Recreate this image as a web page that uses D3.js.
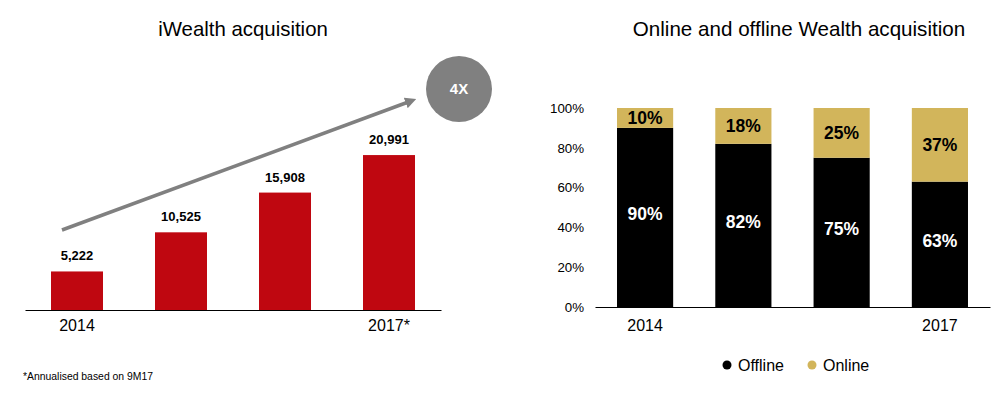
<!DOCTYPE html>
<html><head><meta charset="utf-8">
<script src="https://cdn.jsdelivr.net/npm/d3@7"></script>
<style>body{margin:0;background:#fff}svg{display:block;font-family:"Liberation Sans",Arial,sans-serif}</style>
</head><body>
<script>
// Left chart data
const years = ["2014", "2015", "2016", "2017*"];
const yearLabels = ["2014", "", "", "2017*"];
const acquisitions = [5222, 10525, 15908, 20991];
// Right chart data
const years2 = ["2014", "2015", "2016", "2017"];
const yearLabels2 = ["2014", "", "", "2017"];
const offline = [90, 82, 75, 63];
const online = [10, 18, 25, 37];
const pctTicks = [0, 20, 40, 60, 80, 100];

const W = 1007, H = 393;
const svg = d3.select("body").append("svg").attr("width", W).attr("height", H);

// ---------- Left chart ----------
const RED = "#BF0710", GREY = "#808080";
const xL = d3.scaleBand().domain(years).range([25, 441]).paddingInner(0.5).paddingOuter(0.25);
const yL = d3.scaleLinear().domain([0, 42000]).range([310, 0]);
const gL = svg.append("g");
gL.append("text").attr("x", 243).attr("y", 36).attr("text-anchor", "middle")
  .attr("font-size", 20.4).attr("fill", "#000").text("iWealth acquisition");

gL.selectAll("rect.bar").data(acquisitions).join("rect").attr("class", "bar")
  .attr("x", (d, i) => xL(years[i])).attr("width", xL.bandwidth())
  .attr("y", d => yL(d)).attr("height", d => yL(0) - yL(d)).attr("fill", RED);
gL.selectAll("text.val").data(acquisitions).join("text").attr("class", "val")
  .attr("x", (d, i) => xL(years[i]) + xL.bandwidth() / 2).attr("y", d => yL(d) - 11)
  .attr("text-anchor", "middle").attr("font-size", 13).attr("font-weight", "bold")
  .text(d => d3.format(",")(d));
const axL = d3.axisBottom(xL).tickSize(0).tickFormat((d, i) => yearLabels[i]);
const axLg = gL.append("g").attr("transform", "translate(0,310)").call(axL);
axLg.select(".domain").attr("stroke", "#000").attr("stroke-width", 1.2);
axLg.selectAll("text").attr("font-size", 16).attr("fill", "#000").attr("dy", "1.15em")
  .attr("font-family", "Liberation Sans, Arial, sans-serif");

// arrow
const defs = svg.append("defs");
defs.append("marker").attr("id", "arr").attr("viewBox", "0 0 10 10").attr("refX", 5).attr("refY", 5)
  .attr("markerWidth", 3.2).attr("markerHeight", 3.2).attr("orient", "auto")
  .append("path").attr("d", "M0,0L10,5L0,10z").attr("fill", GREY);
gL.append("line").attr("x1", 62).attr("y1", 230).attr("x2", 411).attr("y2", 101)
  .attr("stroke", GREY).attr("stroke-width", 3.5).attr("marker-end", "url(#arr)");
gL.append("circle").attr("cx", 459).attr("cy", 89).attr("r", 33).attr("fill", GREY);
gL.append("text").attr("x", 459).attr("y", 94).attr("text-anchor", "middle").attr("fill", "#fff")
  .attr("font-size", 15).attr("font-weight", "bold").text("4X");
gL.append("text").attr("x", 23).attr("y", 380).attr("font-size", 10.4).attr("fill", "#000")
  .text("*Annualised based on 9M17");

// ---------- Right chart ----------
const GOLD = "#D2B55B";
const xR = d3.scaleBand().domain(years2).range([595, 990]).paddingInner(0.4286).paddingOuter(0.224);
const yR = d3.scaleLinear().domain([0, 100]).range([307, 108]);
const gR = svg.append("g");
gR.append("text").attr("x", 799).attr("y", 36).attr("text-anchor", "middle")
  .attr("font-size", 20.6).attr("fill", "#000").text("Online and offline Wealth acquisition");

const yAx = d3.axisLeft(yR).tickValues(pctTicks).tickSize(0).tickFormat(d => d + "%");
const yAxg = gR.append("g").attr("transform", "translate(586,0)").call(yAx);
yAxg.select(".domain").remove();
yAxg.selectAll("text").attr("font-size", 13.3).attr("fill", "#000").attr("x", -2)
  .attr("font-family", "Liberation Sans, Arial, sans-serif");

gR.selectAll("rect.off").data(offline).join("rect").attr("class", "off")
  .attr("x", (d, i) => xR(years2[i])).attr("width", xR.bandwidth())
  .attr("y", d => yR(d)).attr("height", d => yR(0) - yR(d)).attr("fill", "#000");
gR.selectAll("rect.on").data(online).join("rect").attr("class", "on")
  .attr("x", (d, i) => xR(years2[i])).attr("width", xR.bandwidth())
  .attr("y", (d, i) => yR(offline[i] + d)).attr("height", (d, i) => yR(offline[i]) - yR(offline[i] + d))
  .attr("fill", GOLD);
gR.selectAll("text.offv").data(offline).join("text").attr("class", "offv")
  .attr("x", (d, i) => xR(years2[i]) + xR.bandwidth() / 2).attr("y", d => yR(d / 2) + 3)
  .attr("text-anchor", "middle").attr("font-size", 17.5).attr("font-weight", "bold").attr("fill", "#fff")
  .text(d => d + "%");
gR.selectAll("text.onv").data(online).join("text").attr("class", "onv")
  .attr("x", (d, i) => xR(years2[i]) + xR.bandwidth() / 2).attr("y", (d, i) => yR(offline[i] + d / 2) + 6)
  .attr("text-anchor", "middle").attr("font-size", 17.5).attr("font-weight", "bold").attr("fill", "#000")
  .text(d => d + "%");

const axR = d3.axisBottom(xR).tickSize(0).tickFormat((d, i) => yearLabels2[i]);
const axRg = gR.append("g").attr("transform", "translate(0,307)").call(axR);
axRg.select(".domain").attr("stroke", "#000").attr("stroke-width", 1.2);
axRg.selectAll("text").attr("font-size", 16).attr("fill", "#000").attr("dy", "1.3em")
  .attr("font-family", "Liberation Sans, Arial, sans-serif");

// legend
const legend = [{k: "Offline", c: "#000", x: 727}, {k: "Online", c: GOLD, x: 812}];
const lg = gR.selectAll("g.leg").data(legend).join("g").attr("class", "leg")
  .attr("transform", d => `translate(${d.x},365)`);
lg.append("circle").attr("r", 4.5).attr("fill", d => d.c);
lg.append("text").attr("x", 11).attr("y", 6).attr("font-size", 16).attr("fill", "#000").text(d => d.k);
</script>
</body></html>
